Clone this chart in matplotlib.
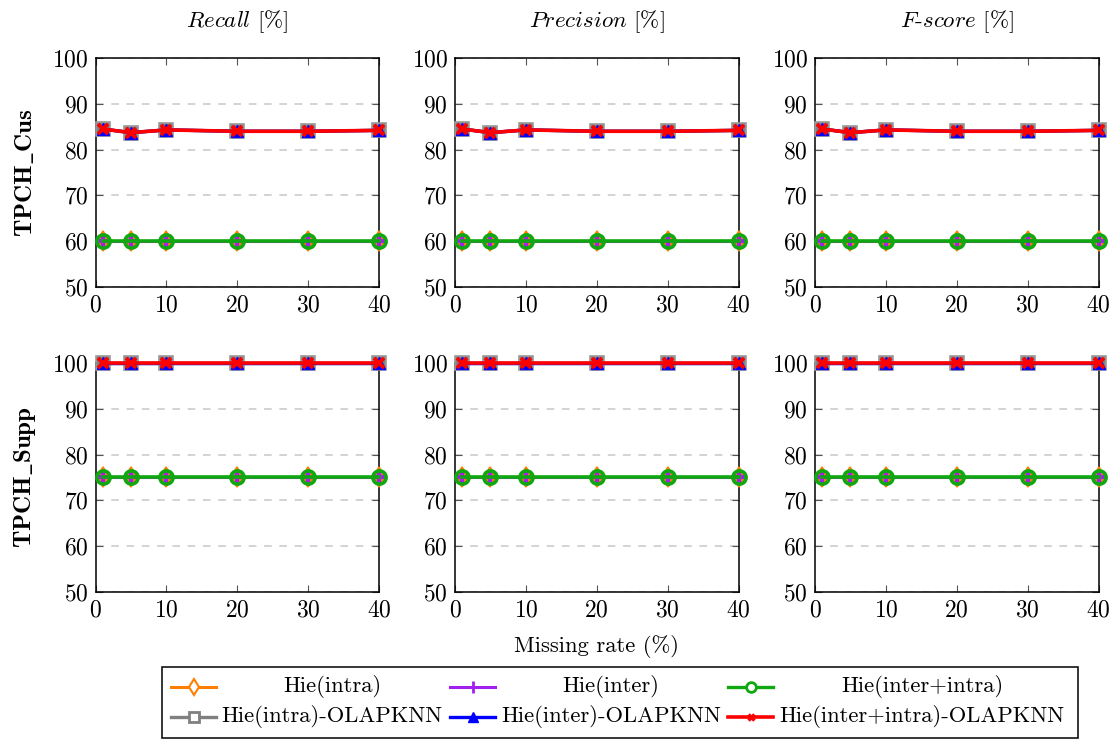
import matplotlib
matplotlib.use("Agg")
import matplotlib.pyplot as plt
from matplotlib.lines import Line2D
from matplotlib.patches import Rectangle

plt.rcParams["font.family"] = "serif"
plt.rcParams["font.serif"] = ["cmr10", "DejaVu Serif"]
plt.rcParams["mathtext.fontset"] = "cm"
plt.rcParams["axes.formatter.use_mathtext"] = True

# ---- data ----
missing_rate = [1, 5, 10, 20, 30, 40]
metric_words = ["Recall", "Precision", "F-score"]
datasets = ["TPCH_Cus", "TPCH_Supp"]
series_names = ["Hie(intra)", "Hie(inter)", "Hie(inter+intra)",
                "Hie(intra)-OLAPKNN", "Hie(inter)-OLAPKNN", "Hie(inter+intra)-OLAPKNN"]

# TPCH_Cus
cus_hie_intra = [60, 60, 60, 60, 60, 60]
cus_hie_inter = [60, 60, 60, 60, 60, 60]
cus_hie_both = [60, 60, 60, 60, 60, 60]
cus_olap_intra = [84.5, 83.7, 84.3, 84.0, 84.0, 84.2]
cus_olap_inter = [84.5, 83.7, 84.3, 84.0, 84.0, 84.2]
cus_olap_both = [84.5, 83.7, 84.3, 84.0, 84.0, 84.2]

# TPCH_Supp
supp_hie_intra = [75, 75, 75, 75, 75, 75]
supp_hie_inter = [75, 75, 75, 75, 75, 75]
supp_hie_both = [75, 75, 75, 75, 75, 75]
supp_olap_intra = [100, 100, 100, 100, 100, 100]
supp_olap_inter = [100, 100, 100, 100, 100, 100]
supp_olap_both = [100, 100, 100, 100, 100, 100]

x_ticks = [0, 10, 20, 30, 40]
y_ticks = [50, 60, 70, 80, 90, 100]

# same values for recall / precision / f-score
rows = [
    [cus_hie_intra, cus_hie_inter, cus_hie_both, cus_olap_intra, cus_olap_inter, cus_olap_both],
    [supp_hie_intra, supp_hie_inter, supp_hie_both, supp_olap_intra, supp_olap_inter, supp_olap_both],
]

ORANGE = "#ff8000"
PURPLE = "#a020f0"
GREEN = "#10a810"
GRAY = "#808080"
BLUE = "#0000ff"
RED = "#ff0000"

styles = [
    dict(color=ORANGE, marker="d", ms=10, mfc=ORANGE, mec=ORANGE, mew=1.2, lw=2.2),
    dict(color=PURPLE, marker="+", ms=9, mec=PURPLE, mew=3, lw=2.2),
    dict(color=GREEN, marker="o", ms=9.5, mfc="none", mec=GREEN, mew=2.6, lw=2.6),
    dict(color=GRAY, marker="s", ms=9.5, mfc=GRAY, mec="#9a9a9a", mew=1.2, lw=2.4),
    dict(color=BLUE, marker="^", ms=8.5, mfc=BLUE, mec=BLUE, mew=1, lw=2.4),
    dict(color=RED, marker="x", ms=7.5, mec=RED, mew=2.8, lw=2.6),
]

W, H = 1116, 740
fig = plt.figure(figsize=(W / 100, H / 100), dpi=100)


def fx(px):
    return px / W


def fy(py):
    return 1 - py / H


col_left = [95.5, 455, 815]
ax_w = 283.5
row_top = [58, 363]
ax_h = 229

for r in range(2):
    for c in range(3):
        ax = fig.add_axes([fx(col_left[c]), fy(row_top[r] + ax_h), ax_w / W, ax_h / H])
        for vals, st in zip(rows[r], styles):
            ax.plot(missing_rate, vals, clip_on=False, zorder=3, **st)
        ax.set_xlim(0, 40)
        ax.set_ylim(50, 100)
        ax.set_xticks(x_ticks)
        ax.set_yticks(y_ticks)
        ax.tick_params(direction="in", top=True, right=True, length=5,
                       width=0.8, color="#555555", labelsize=17, pad=5)
        ax.yaxis.grid(True, linestyle=(0, (5, 5)), color="#c8c8c8", linewidth=1.1)
        ax.set_axisbelow(True)
        for sp in ax.spines.values():
            sp.set_linewidth(1.1)
            sp.set_zorder(2.5)
        if r == 0:
            parts = metric_words[c].split("-")
            title = "-".join(r"$\mathit{" + p + "}$" for p in parts) + r" $\mathit{[\%]}$"
            ax.set_title(title, fontsize=16.5, pad=22)
    fig.text(fx(25), fy(row_top[r] + ax_h / 2),
             r"$\mathbf{" + datasets[r].replace("_", r"\_") + "}$",
             rotation=90, ha="center", va="center", fontsize=18)

fig.text(fx(596), fy(647), "Missing rate (%)", ha="center", va="center", fontsize=16.3)

# legend drawn as a framed 2x3 grid with centred labels
fig.add_artist(Rectangle((fx(161.5), fy(738)), (1078 - 161.5) / W, (738 - 666.5) / H,
                         transform=fig.transFigure, fill=False, edgecolor="black", lw=1.1))
leg_styles = [
    dict(color=ORANGE, marker="d", ms=8, mfc="white", mec=ORANGE, mew=1.5, lw=2.2),
    dict(color=PURPLE, marker="+", ms=8, mec=PURPLE, mew=2, lw=2.2),
    dict(color=GREEN, marker="o", ms=7, mfc="white", mec=GREEN, mew=2, lw=2.4),
    dict(color=GRAY, marker="s", ms=7, mfc="white", mec=GRAY, mew=2, lw=2.4),
    dict(color=BLUE, marker="^", ms=7, mfc=BLUE, mec=BLUE, mew=1, lw=2.4),
    dict(color=RED, marker="x", ms=5, mec=RED, mew=2.5, lw=2.6),
]
line_x0 = [171, 450, 728]
text_cx = [332, 611, 922]
row_y = [687, 717]
for i, name in enumerate(series_names):
    rr, cc = divmod(i, 3)
    x0 = line_x0[cc]
    yy = fy(row_y[rr])
    st = leg_styles[i]
    fig.add_artist(Line2D([fx(x0), fx(x0 + 45)], [yy, yy], transform=fig.transFigure,
                          color=st["color"], lw=st["lw"]))
    fig.add_artist(Line2D([fx(x0 + 22.5)], [yy], transform=fig.transFigure, linestyle="none",
                          marker=st["marker"], ms=st["ms"], mfc=st.get("mfc", st["color"]),
                          mec=st["mec"], mew=st["mew"]))
    fig.text(fx(text_cx[cc]), yy, name, ha="center", va="center", fontsize=16.3)

fig.savefig("out.png", dpi=100)
